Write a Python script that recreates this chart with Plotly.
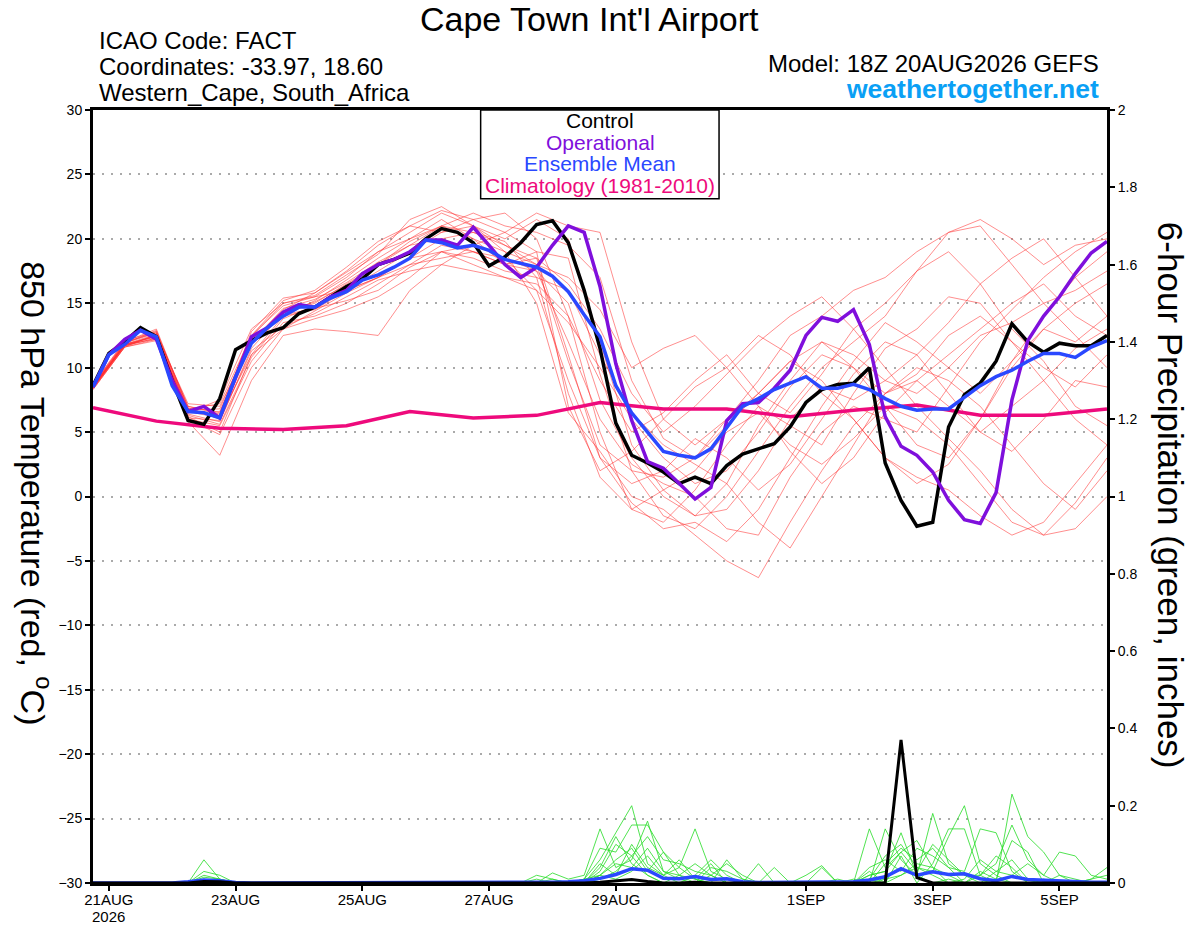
import pandas as pd
import plotly.graph_objects as go

# 6-hourly valid times, 18Z 20AUG2026 run out to 5SEP 18Z
times_6h = pd.date_range("2026-08-20 18:00", periods=65, freq="6h")
times_12h = times_6h[::2]
times_24h = times_6h[::4]

tick_dates = ["2026-08-21", "2026-08-23", "2026-08-25", "2026-08-27",
              "2026-08-29", "2026-09-01", "2026-09-03", "2026-09-05"]
tick_labels = ["21AUG", "23AUG", "25AUG", "27AUG",
               "29AUG", "1SEP", "3SEP", "5SEP"]

# 850 hPa temperature (C), 6-hourly
control_t = [8.6, 11.1, 12.0, 13.1, 12.4, 9.0, 5.9, 5.6, 7.6, 11.4,
             12.1, 12.7, 13.1, 14.2, 14.7, 15.5, 16.3, 16.9, 18.0, 18.4,
             18.9, 20.0, 20.8, 20.5, 19.7, 17.9, 18.6, 19.7, 21.1, 21.4,
             19.7, 16.0, 11.5, 5.7, 3.2, 2.6, 1.9, 1.0, 1.5, 1.0,
             2.4, 3.3, 3.7, 4.1, 5.4, 7.3, 8.3, 8.7, 8.8, 10.0,
             2.6, -0.3, -2.3, -2.0, 5.4, 7.9, 8.8, 10.5, 13.4, 12.0,
             11.2, 11.9, 11.7, 11.7, 12.5]
operational_t = [8.5, 11.0, 12.2, 12.9, 12.2, 9.0, 6.6, 7.0, 6.1, 9.3,
                 12.4, 13.1, 14.3, 14.9, 14.7, 15.5, 16.0, 17.3, 18.0, 18.4,
                 19.0, 19.9, 19.9, 19.5, 20.9, 19.5, 18.0, 17.0, 17.8, 19.5,
                 21.0, 20.5, 16.3, 10.3, 5.9, 2.7, 2.2, 1.0, -0.2, 0.7,
                 5.9, 7.2, 7.3, 8.4, 9.8, 12.5, 13.9, 13.6, 14.5, 11.8,
                 6.2, 3.9, 3.2, 1.9, -0.3, -1.8, -2.1, 0.3, 7.5, 12.1,
                 14.0, 15.5, 17.3, 18.9, 19.8]
mean_t = [8.5, 11.0, 11.8, 12.9, 12.4, 8.6, 6.6, 6.5, 6.1, 9.3,
          11.9, 13.1, 14.0, 14.7, 14.7, 15.4, 15.9, 16.8, 17.2, 17.8,
          18.5, 19.9, 19.7, 19.3, 19.5, 19.1, 18.4, 18.1, 17.8, 17.1,
          15.9, 14.1, 12.4, 8.6, 6.5, 5.0, 3.5, 3.2, 3.0, 3.7,
          5.4, 7.0, 7.6, 8.3, 8.8, 9.3, 8.4, 8.4, 8.7, 8.3,
          7.6, 7.0, 6.7, 6.8, 6.8, 7.7, 8.6, 9.3, 9.8, 10.5,
          11.1, 11.1, 10.8, 11.6, 12.1]
# climatology, daily
clim_t = [6.9, 5.85, 5.3, 5.2, 5.5, 6.6, 6.1, 6.3, 7.3,
          6.8, 6.8, 6.2, 6.7, 7.1, 6.3, 6.3, 6.8]

# ensemble members, 12-hourly
mem01_t = [8.4, 11.7, 12.5, 6.4, 5.8, 11.5, 14.2, 15.0, 16.5, 18.0, 19.5, 21.0, 20.5, 19.5, 18.0,
           10.5, 4.0, 2.0, 1.5, 3.0, 6.0, 8.0, 10.5, 12.0, 11.0, 9.0, 8.0, 10.0, 12.5, 13.5, 15.0, 16.0, 17.5]
mem02_t = [8.6, 11.9, 12.8, 7.0, 6.5, 12.5, 14.8, 15.5, 17.0, 19.0, 20.5, 22.0, 21.0, 20.0, 21.5,
           20.0, 12.0, 4.0, 0.5, -1.5, 1.0, 5.5, 9.0, 12.0, 10.0, 7.0, 4.0, 3.0, 6.0, 10.0, 13.0, 12.0, 14.0]
mem03_t = [8.5, 11.8, 12.2, 6.0, 5.5, 10.5, 13.5, 14.0, 15.0, 16.5, 18.0, 19.5, 19.0, 18.5, 16.0,
           9.0, 3.0, 1.0, 2.0, 4.5, 3.0, 0.5, 2.5, 6.0, 9.5, 12.0, 11.0, 8.0, 5.0, 7.0, 9.0, 11.5, 13.0]
mem04_t = [8.3, 11.6, 12.6, 7.2, 7.0, 12.0, 14.5, 15.8, 17.5, 19.5, 21.0, 20.5, 21.5, 22.0, 20.0,
           14.0, 5.0, -1.0, -2.0, 0.5, 4.0, 7.0, 5.5, 4.0, 8.0, 11.5, 13.0, 15.5, 15.0, 12.0, 9.0, 6.0, 4.0]
mem05_t = [8.7, 12.0, 13.0, 6.8, 6.2, 11.0, 13.0, 13.8, 14.5, 15.5, 17.0, 19.0, 18.5, 17.5, 17.0,
           16.0, 11.0, 6.5, 4.0, 2.5, 1.0, -2.0, -4.0, 0.0, 4.0, 8.0, 10.0, 9.0, 7.0, 4.0, 1.0, -1.0, 2.0]
mem06_t = [8.4, 11.8, 12.4, 5.8, 3.2, 9.0, 12.5, 13.0, 12.8, 12.5, 16.0, 18.0, 19.5, 20.5, 19.0,
           7.0, 2.0, 3.5, 6.0, 8.5, 10.0, 12.5, 11.0, 8.0, 6.0, 3.0, 1.0, 2.5, 6.0, 10.5, 14.0, 17.0, 19.0]
mem07_t = [8.5, 11.7, 12.3, 6.5, 7.5, 13.0, 15.0, 15.5, 16.0, 17.5, 19.0, 20.5, 21.0, 19.0, 15.0,
           6.5, 3.5, 0.0, -1.0, -3.0, -5.0, -6.3, -2.0, 2.0, 5.5, 8.0, 9.5, 12.5, 14.0, 12.0, 10.0, 8.5, 11.0]
mem08_t = [8.6, 11.9, 12.7, 6.9, 6.0, 12.2, 14.0, 14.5, 16.0, 17.0, 18.5, 19.0, 18.0, 17.0, 16.5,
           14.0, 9.0, 5.0, 6.5, 9.0, 11.0, 8.0, 6.5, 9.5, 13.0, 15.0, 17.5, 19.0, 16.5, 13.0, 10.5, 7.0, 5.5]
mem09_t = [8.4, 11.6, 12.1, 6.2, 5.0, 11.0, 14.0, 15.2, 16.8, 18.5, 20.0, 21.5, 20.0, 18.0, 17.5,
           12.0, 6.0, 2.5, 1.0, 0.0, -2.5, -3.0, 1.5, 5.0, 7.0, 6.0, 5.0, 8.5, 12.0, 14.5, 17.0, 19.0, 20.5]
mem10_t = [8.5, 11.8, 12.6, 6.7, 6.8, 12.4, 15.0, 15.6, 17.2, 18.8, 21.5, 22.5, 21.0, 19.5, 18.5,
           16.5, 13.0, 8.0, 5.0, 7.0, 9.5, 12.0, 14.0, 15.5, 13.0, 10.0, 7.0, 4.5, 2.0, -1.0, -3.0, -2.5, 0.0]
mem11_t = [8.6, 11.7, 12.5, 6.3, 5.6, 10.8, 13.8, 14.8, 16.0, 17.0, 18.0, 18.5, 19.0, 18.0, 19.0,
           18.5, 9.5, 2.0, -1.5, -2.5, 0.0, 3.5, 7.0, 10.0, 12.0, 14.0, 17.5, 20.5, 21.0, 18.0, 15.0, 12.5, 10.0]
mem12_t = [8.5, 11.9, 12.9, 6.6, 6.3, 12.0, 14.6, 15.3, 16.6, 18.2, 19.5, 20.0, 20.5, 19.8, 17.0,
           8.0, 1.5, -1.0, 0.5, 2.0, 5.0, 6.5, 4.0, 2.5, 4.5, 7.0, 6.0, 4.0, 1.0, -2.0, -3.0, -0.5, 3.0]
mem13_t = [8.3, 11.6, 12.2, 6.8, 7.2, 12.5, 15.2, 16.0, 17.8, 19.8, 21.0, 22.2, 21.5, 20.5, 22.0,
           21.0, 20.5, 12.0, 6.0, 4.0, 6.0, 9.0, 12.5, 14.0, 16.0, 17.0, 19.0, 20.5, 21.5, 20.0, 18.0, 19.5, 20.0]
mem14_t = [8.7, 12.1, 12.8, 6.1, 5.9, 11.3, 13.2, 14.2, 15.5, 16.8, 17.5, 18.0, 17.5, 17.0, 16.0,
           13.5, 10.0, 6.0, 3.0, 1.0, 2.0, 5.0, 8.5, 11.0, 10.0, 8.0, 9.0, 11.0, 13.0, 15.0, 16.5, 14.0, 12.5]
mem15_t = [8.5, 11.8, 12.4, 6.5, 6.6, 12.1, 14.3, 15.1, 16.4, 18.0, 19.8, 21.0, 20.0, 19.0, 18.0,
           17.0, 14.5, 10.0, 11.5, 12.5, 10.0, 7.0, 3.5, 1.0, 3.0, 6.5, 9.0, 7.0, 5.0, 3.5, 6.0, 9.0, 8.5]
mem16_t = [8.4, 11.7, 12.3, 6.0, 4.8, 10.0, 13.0, 14.4, 15.8, 17.0, 18.5, 20.0, 19.0, 18.0, 18.5,
           11.0, 3.0, -0.5, -2.5, -2.0, -3.5, -1.0, 3.0, 7.0, 10.5, 13.5, 12.0, 10.0, 8.0, 10.5, 13.0, 15.0, 16.5]
mem17_t = [8.6, 12.0, 12.7, 7.0, 6.4, 12.8, 15.4, 15.8, 17.4, 19.0, 20.0, 21.0, 22.0, 21.0, 20.5,
           19.5, 17.0, 9.0, 4.5, 3.0, 5.5, 8.0, 10.5, 9.0, 6.0, 3.0, 1.5, 0.5, -1.5, -3.0, -2.0, 1.0, 4.0]
mem18_t = [8.5, 11.8, 12.5, 6.6, 6.1, 11.8, 14.1, 14.6, 15.2, 16.0, 17.8, 19.0, 19.5, 18.5, 17.5,
           15.0, 7.5, 3.0, 0.0, -1.5, -1.0, 2.0, 6.0, 8.5, 7.5, 9.0, 11.0, 13.5, 16.5, 18.5, 20.0, 17.0, 14.0]

# 6-hour precipitation (inches)
control_p = [0, 0, 0, 0, 0, 0, 0, 0.004, 0.003, 0, 0, 0, 0, 0, 0, 0, 0, 0, 0, 0,
             0, 0, 0, 0, 0, 0, 0, 0, 0, 0, 0, 0, 0.002, 0.006, 0.009, 0.004, 0, 0, 0.002, 0,
             0, 0, 0, 0, 0, 0, 0, 0, 0, 0, 0, 0.37, 0.014, 0, 0, 0, 0, 0, 0, 0,
             0, 0, 0, 0, 0]
mean_p = [0, 0, 0, 0, 0, 0, 0.003, 0.008, 0.006, 0.001, 0, 0, 0, 0, 0, 0, 0, 0, 0, 0,
          0, 0, 0, 0, 0, 0, 0, 0, 0.001, 0.002, 0.003, 0.006, 0.012, 0.022, 0.037,
          0.033, 0.012, 0.011, 0.017, 0.009, 0.011, 0.003, 0.001, 0.001, 0.001,
          0.001, 0.002, 0.002, 0.003, 0.008, 0.016, 0.037, 0.02, 0.029, 0.022,
          0.024, 0.011, 0.006, 0.017, 0.009, 0.007, 0.005, 0.003, 0.002, 0.002]
mem01_p = [0, 0, 0, 0, 0, 0, 0, 0.06, 0.01, 0, 0, 0, 0, 0, 0, 0, 0, 0, 0, 0, 0, 0, 0, 0, 0,
           0, 0, 0, 0, 0.026, 0.01, 0.02, 0.14, 0.04, 0.06, 0.16, 0.03, 0.01, 0, 0.02,
           0, 0, 0, 0, 0, 0, 0, 0, 0, 0, 0.14, 0.06, 0.02, 0, 0.01, 0, 0, 0, 0.23, 0.12,
           0.08, 0.02, 0, 0, 0]
mem02_p = [0, 0, 0, 0, 0, 0, 0, 0.03, 0.02, 0, 0, 0, 0, 0, 0, 0, 0, 0, 0, 0, 0, 0, 0, 0, 0,
           0, 0, 0, 0.02, 0.01, 0, 0.01, 0.06, 0.13, 0.2, 0.05, 0.02, 0.04, 0.14, 0.03,
           0.01, 0, 0, 0, 0, 0, 0, 0, 0, 0.02, 0.03, 0.13, 0.02, 0.18, 0.05, 0.02, 0, 0.01, 0, 0,
           0.01, 0, 0, 0, 0]
mem03_p = [0, 0, 0, 0, 0, 0, 0, 0.015, 0.01, 0, 0, 0, 0, 0, 0, 0, 0, 0, 0, 0, 0, 0, 0, 0, 0,
           0, 0, 0, 0, 0, 0, 0.01, 0.09, 0.08, 0.15, 0.15, 0.08, 0.02, 0.01, 0,
           0.06, 0.01, 0, 0, 0, 0, 0.04, 0, 0, 0.01, 0.07, 0.1, 0.04, 0.03, 0.12, 0.2, 0.05, 0.02, 0, 0,
           0, 0, 0, 0, 0]
mem04_p = [0, 0, 0, 0, 0, 0, 0, 0.01, 0, 0, 0, 0, 0, 0, 0, 0, 0, 0, 0, 0, 0, 0, 0, 0, 0,
           0, 0, 0, 0, 0, 0, 0, 0.05, 0.02, 0.1, 0.04, 0.02, 0, 0.02, 0.06,
           0.02, 0, 0.05, 0, 0, 0, 0, 0, 0, 0.14, 0.04, 0.08, 0.03, 0.1, 0.06, 0.02, 0.02, 0.05, 0.15, 0.06,
           0.02, 0.08, 0.07, 0.02, 0.01]
mem05_p = [0, 0, 0, 0, 0, 0, 0, 0, 0, 0, 0, 0, 0, 0, 0, 0, 0, 0, 0, 0, 0, 0, 0, 0, 0,
           0, 0, 0, 0, 0.01, 0, 0, 0.03, 0.1, 0.07, 0.12, 0.06, 0.05, 0.03, 0.02,
           0.05, 0.02, 0, 0, 0, 0, 0, 0, 0.01, 0, 0.05, 0.09, 0.06, 0.09, 0.04, 0.03, 0.14, 0.13, 0.03, 0,
           0, 0, 0, 0.01, 0.04]
mem06_p = [0, 0, 0, 0, 0, 0, 0, 0.02, 0.01, 0, 0, 0, 0, 0, 0, 0, 0, 0, 0, 0, 0, 0, 0, 0, 0,
           0, 0, 0, 0, 0, 0, 0.01, 0.02, 0.06, 0.09, 0.03, 0.08, 0.04, 0.01, 0.05,
           0, 0, 0, 0.04, 0, 0, 0, 0, 0, 0.02, 0.03, 0.08, 0.11, 0.04, 0.02, 0, 0, 0.03, 0.06, 0.01,
           0, 0, 0, 0, 0]
mem07_p = [0, 0, 0, 0, 0, 0, 0, 0, 0, 0, 0, 0, 0, 0, 0, 0, 0, 0, 0, 0, 0, 0, 0, 0, 0,
           0, 0, 0, 0.01, 0, 0, 0, 0.04, 0.12, 0.05, 0.02, 0, 0.02, 0.05, 0.02,
           0, 0, 0, 0, 0, 0.02, 0.045, 0, 0, 0.01, 0, 0.02, 0.04, 0.02, 0, 0.01, 0.06, 0.03, 0.02, 0.05,
           0.02, 0, 0, 0, 0]
mem08_p = [0, 0, 0, 0, 0, 0, 0, 0.01, 0, 0, 0, 0, 0, 0, 0, 0, 0, 0, 0, 0, 0, 0, 0, 0, 0,
           0, 0, 0, 0, 0, 0, 0, 0.02, 0.01, 0.03, 0.07, 0.02, 0.06, 0.01, 0,
           0, 0, 0, 0, 0, 0, 0, 0, 0, 0.04, 0.06, 0.03, 0.09, 0.07, 0.04, 0, 0.02, 0.07, 0.04, 0,
           0, 0.02, 0.01, 0, 0]
mem09_p = [0, 0, 0, 0, 0, 0, 0, 0, 0, 0, 0, 0, 0, 0, 0, 0, 0, 0, 0, 0, 0, 0, 0, 0, 0,
           0, 0, 0, 0, 0, 0, 0, 0.01, 0.03, 0.07, 0.02, 0, 0, 0, 0,
           0, 0, 0, 0, 0, 0, 0, 0.01, 0, 0.03, 0, 0.07, 0, 0.05, 0.14, 0.14, 0.02, 0, 0, 0,
           0, 0, 0, 0, 0]
mem10_p = [0, 0, 0, 0, 0, 0, 0, 0, 0, 0, 0, 0, 0, 0, 0, 0, 0, 0, 0, 0, 0, 0, 0, 0, 0,
           0, 0, 0, 0, 0, 0, 0, 0.02, 0.05, 0.04, 0.09, 0.03, 0.02, 0, 0.04,
           0.03, 0.01, 0, 0, 0, 0, 0, 0, 0, 0, 0.01, 0.02, 0.05, 0.04, 0, 0, 0.03, 0.01, 0.11, 0.08,
           0, 0, 0, 0.01, 0.02]

member_temps = [mem01_t, mem02_t, mem03_t, mem04_t, mem05_t, mem06_t, mem07_t, mem08_t, mem09_t,
                mem10_t, mem11_t, mem12_t, mem13_t, mem14_t, mem15_t, mem16_t, mem17_t, mem18_t]
member_precs = [mem01_p, mem02_p, mem03_p, mem04_p, mem05_p, mem06_p, mem07_p, mem08_p, mem09_p, mem10_p]

RED = "rgba(255,45,45,0.6)"
GREEN = "rgba(40,220,40,0.9)"
PURPLE = "#7f0fdc"
BLUE = "#2a48ff"
PINK = "#ee0a7c"
FONT = "Liberation Sans, Arial, Helvetica, sans-serif"

fig = go.Figure()

for m in member_temps:
    fig.add_trace(go.Scatter(x=times_12h, y=m, mode="lines",
                             line=dict(color=RED, width=0.9), hoverinfo="skip"))
for m in member_precs:
    fig.add_trace(go.Scatter(x=times_6h, y=m, mode="lines", yaxis="y2",
                             line=dict(color=GREEN, width=0.9), hoverinfo="skip"))

fig.add_trace(go.Scatter(x=times_6h, y=mean_p, mode="lines", yaxis="y2",
                         line=dict(color=BLUE, width=3.5)))
fig.add_trace(go.Scatter(x=times_6h, y=control_p, mode="lines", yaxis="y2",
                         line=dict(color="black", width=3)))

fig.add_trace(go.Scatter(x=times_24h, y=clim_t, mode="lines",
                         line=dict(color=PINK, width=3.5)))
fig.add_trace(go.Scatter(x=times_6h, y=control_t, mode="lines",
                         line=dict(color="black", width=3.5)))
fig.add_trace(go.Scatter(x=times_6h, y=operational_t, mode="lines",
                         line=dict(color=PURPLE, width=3.5)))
fig.add_trace(go.Scatter(x=times_6h, y=mean_t, mode="lines",
                         line=dict(color=BLUE, width=3.5)))

# page body has an 8px margin, so the figure is a bit smaller and shifted
fig.update_layout(
    width=1192, height=919,
    margin=dict(l=85, r=93, t=102, b=44, autoexpand=False),
    plot_bgcolor="white", paper_bgcolor="white",
    showlegend=False,
    font=dict(family=FONT, color="black", size=14),
    xaxis=dict(
        type="date", automargin=False,
        range=[times_6h[0], times_6h[-1]],
        tickvals=tick_dates, ticktext=tick_labels,
        ticks="outside", ticklen=5, tickwidth=1.5, tickcolor="black",
        tickfont=dict(size=15), ticklabelstandoff=-4,
        showgrid=False, zeroline=False,
        showline=True, linecolor="black", linewidth=3, mirror=True,
    ),
    yaxis=dict(
        range=[-30, 30], dtick=5, automargin=False,
        ticks="outside", ticklen=5, tickwidth=1.5, tickcolor="black",
        tickfont=dict(size=14),
        showgrid=True, gridcolor="#aaaaaa", gridwidth=1.5, griddash="2px,7px",
        zeroline=False,
        showline=True, linecolor="black", linewidth=3, mirror=True,
    ),
    yaxis2=dict(
        range=[0, 2], dtick=0.2, overlaying="y", side="right", automargin=False,
        ticks="outside", ticklen=5, tickwidth=1.5, tickcolor="black",
        tickfont=dict(size=14),
        showgrid=False, zeroline=False,
        showline=True, linecolor="black", linewidth=3,
    ),
)


def note(text, x, y, size, xanchor="left", color="black", angle=0):
    fig.add_annotation(text=text, x=x, y=y, xref="paper", yref="paper",
                       xanchor=xanchor, yanchor="middle", showarrow=False,
                       textangle=angle, font=dict(size=size, color=color))


# year under the first date label
fig.add_annotation(text="2026", x=tick_dates[0], y=-0.0432, xref="x", yref="paper",
                   xanchor="center", yanchor="middle", showarrow=False, font=dict(size=15))

# header text
note("Cape Town Int'l Airport", 0.49, 1.1175, 34, xanchor="center")
note("ICAO Code: FACT", 0.004, 1.0905, 24)
note("Coordinates: -33.97, 18.60", 0.004, 1.0568, 24)
note("Western_Cape, South_Africa", 0.004, 1.0220, 24)
note("Model: 18Z 20AUG2026 GEFS", 0.994, 1.0605, 24, xanchor="right")
note("<b>weathertogether.net</b>", 0.994, 1.0268, 26.5, xanchor="right", color="#0aa0f5")

# axis titles, both read top to bottom
note("850 hPa Temperature (red, <sup>o</sup>C)", -0.056, 0.504, 34, xanchor="center", angle=90)
note("6-hour Precipitation (green, inches)", 1.062, 0.501, 35, xanchor="center", angle=90)

# legend box
fig.add_shape(type="rect", xref="paper", yref="paper",
              x0=0.3823, x1=0.6174, y0=0.8853, y1=1.0,
              line=dict(color="black", width=1.5), fillcolor="white", layer="above")
note("Control", 0.5, 0.9861, 21, xanchor="center")
note("Operational", 0.5, 0.9577, 21, xanchor="center", color=PURPLE)
note("Ensemble Mean", 0.5, 0.9302, 21, xanchor="center", color=BLUE)
note("Climatology (1981-2010)", 0.5, 0.9017, 21, xanchor="center", color=PINK)

fig.write_html("out.html")
